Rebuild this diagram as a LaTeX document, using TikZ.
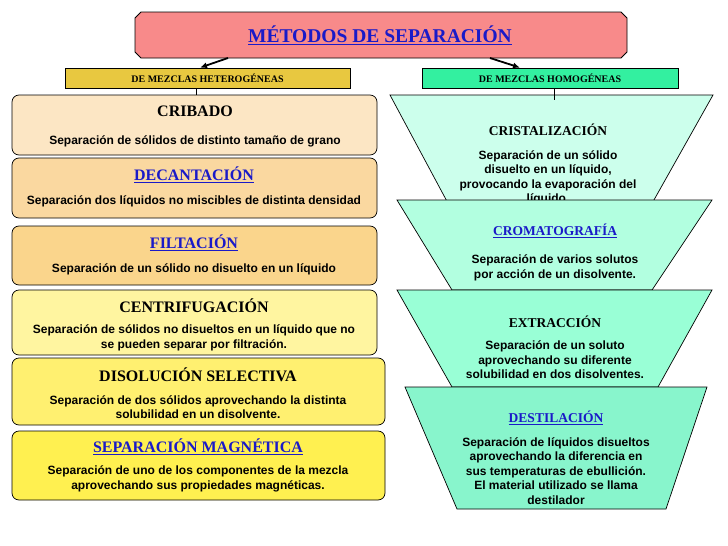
\documentclass[tikz,border=0pt]{standalone}
\usepackage{fontspec}
\setmainfont{Liberation Serif}
\newfontfamily\arial{Liberation Sans}
\usetikzlibrary{arrows.meta}
\definecolor{lnk}{HTML}{1A1AC8}
\definecolor{ttl}{HTML}{F88A8A}
\definecolor{hetc}{HTML}{E8C840}
\definecolor{homc}{HTML}{33F0A0}
\definecolor{la}{HTML}{FCE6C4}
\definecolor{lb}{HTML}{FAD8A0}
\definecolor{lc}{HTML}{FAD58C}
\definecolor{ld}{HTML}{FFF5A0}
\definecolor{le}{HTML}{FFF070}
\definecolor{lf}{HTML}{FFF050}
\definecolor{ra}{HTML}{CCFFEC}
\definecolor{rb}{HTML}{B2FFE0}
\definecolor{rc}{HTML}{99FFD6}
\definecolor{rd}{HTML}{88F5CC}
\begin{document}
\begin{tikzpicture}[x=1pt,y=-1pt,
  hd/.style={font=\bfseries\fontsize{16}{18}\selectfont},
  lk/.style={font=\bfseries\fontsize{16}{18}\selectfont,text=lnk},
  rh/.style={font=\bfseries\fontsize{13.5}{15}\selectfont},
  bd/.style={font=\arial\bfseries\fontsize{12}{14.5}\selectfont,align=center},
  lbox/.style={draw,line width=0.7pt,rounded corners=7pt},
  trap/.style={draw,line width=0.7pt},
  cat/.style={draw,line width=0.7pt,font=\bfseries\fontsize{10}{11}\selectfont,inner sep=0pt}]
\fill[white] (0,0) rectangle (728,546);
% title
\draw[fill=ttl,line width=0.8pt] (141,12)--(621,12)--(627,18)--(627,52)--(621,58)--(141,58)--(135,52)--(135,18)--cycle;
\node[font=\bfseries\fontsize{19.5}{21}\selectfont,text=lnk] (t) at (380,35) {\underline{MÉTODOS DE SEPARACIÓN}};
\coordinate (ta) at (228,58); \coordinate (tb) at (490,58);
% category boxes
\node[cat,fill=hetc,minimum width=285,minimum height=20] (het) at (207.5,78) {DE MEZCLAS HETEROGÉNEAS};
\node[cat,fill=homc,minimum width=256,minimum height=20] (hom) at (550,78) {DE MEZCLAS HOMOGÉNEAS};
\draw[-{Latex[length=7pt,width=6pt]},line width=1.8pt] (ta) -- (het.north-|200,0);
\draw[-{Latex[length=7pt,width=6pt]},line width=1.8pt] (tb) -- (hom.north-|520,0);
% left boxes
\draw[lbox,fill=la] (12,95) rectangle (377,155);
\draw[lbox,fill=lb] (12,158) rectangle (377,218);
\draw[lbox,fill=lc] (12,226) rectangle (377,285);
\draw[lbox,fill=ld] (12,290) rectangle (377,355);
\draw[lbox,fill=le] (12,358) rectangle (385,425);
\draw[lbox,fill=lf] (12,431) rectangle (385,500);
\draw[line width=1pt] (het.south-|196,0) -- (196,95);
\node[hd] (cr) at (195,111) {CRIBADO};
\node[bd] (crb) at (195,141) {Separación de sólidos de distinto tamaño de grano};
\node[lk] (de) at (194,175) {\underline{DECANTACIÓN}};
\node[bd] (deb) at (194,201) {Separación dos líquidos no miscibles de distinta densidad};
\node[lk] (fi) at (194,243) {\underline{FILTACIÓN}};
\node[bd] (fib) at (194,269) {Separación de un sólido no disuelto en un líquido};
\node[hd] (ce) at (194,306) {CENTRIFUGACIÓN};
\node[bd] (ceb) at (194,338) {Separación de sólidos no disueltos en un líquido que no\\se pueden separar por filtración.};
\node[hd] (di) at (198,375) {DISOLUCIÓN SELECTIVA};
\node[bd] (dib) at (198,407) {Separación de dos sólidos aprovechando la distinta\\solubilidad en un disolvente.};
\node[lk] (ma) at (198,447) {\underline{SEPARACIÓN MAGNÉTICA}};
\node[bd] (mab) at (198,479) {Separación de uno de los componentes de la mezcla\\aprovechando sus propiedades magnéticas.};
% right trapezoids
\draw[trap,fill=ra] (390,95)--(713,95)--(650,207)--(450,207)--cycle;
\draw[line width=1pt] (hom.south-|554,0) -- (554,100);
\node[rh] (cs) at (548,130) {CRISTALIZACIÓN};
\node[bd] (csb) at (548,178) {Separación de un sólido\\disuelto en un líquido,\\provocando la evaporación del\\líquido.};
\draw[trap,fill=rb] (397,200)--(712,200)--(652,290)--(452,290)--cycle;
\node[rh,text=lnk] (cm) at (555,231) {\underline{CROMATOGRAFÍA}};
\node[bd] (cmb) at (555,268) {Separación de varios solutos\\por acción de un disolvente.};
\draw[trap,fill=rc] (397,290)--(712,290)--(658,387)--(452,387)--cycle;
\node[rh] (ex) at (555,322) {EXTRACCIÓN};
\node[bd] (exb) at (555,360) {Separación de un soluto\\aprovechando su diferente\\solubilidad en dos disolventes.};
\draw[trap,fill=rd] (405,387)--(707,387)--(666,509)--(457,509)--cycle;
\node[rh,text=lnk] (ds) at (556,418) {\underline{DESTILACIÓN}};
\node[bd] (dsb) at (556,471) {Separación de líquidos disueltos\\aprovechando la diferencia en\\sus temperaturas de ebullición.\\El material utilizado se llama\\destilador};
\end{tikzpicture}
\end{document}
